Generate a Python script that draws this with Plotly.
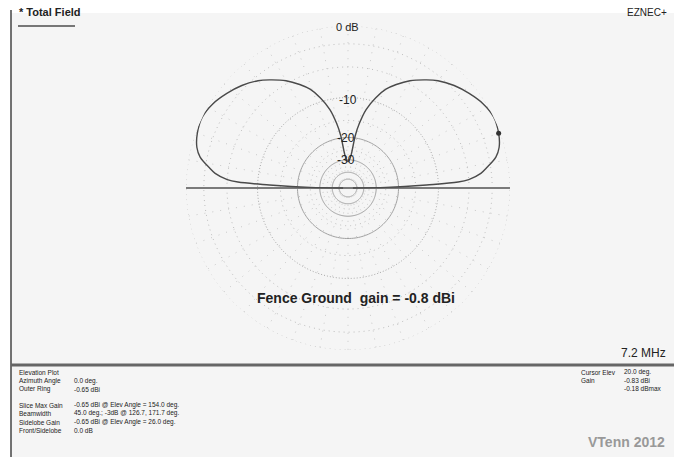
import plotly.graph_objects as go

# ---- data (elevation pattern, dB relative to outer ring = -0.65 dBi) ----
elev_half = [0, 1, 1.5, 2.2, 3.1, 4, 6.3, 8.3, 11.8, 15, 20, 26, 32, 38, 44, 50, 54, 60, 65, 69, 73, 77, 80, 82, 84.5, 87, 90]
gain_half = [-60, -25, -18, -12.4, -6.6, -5.0, -3.3, -2.5, -1.2, -0.6, -0.18, 0, -0.3, -0.9, -1.6, -2.5, -3.3, -4.6, -6.0, -7.3, -9.3, -12, -15.5, -19, -27, -30, -31]

ring_dotted = [0, -2, -5, -10, -15, -25, -35]
ring_solid = [-20, -30, -40, -50]
ring_labels = ["0 dB", "-10", "-20", "-30"]
cursor_elev = [20.0]
cursor_gain = [-0.18]

left_lines = ["Elevation Plot", "Azimuth Angle", "Outer Ring", "", "Slice Max Gain", "Beamwidth", "Sidelobe Gain", "Front/Sidelobe"]
left_vals = ["", "0.0 deg.", "-0.65 dBi", "", "-0.65 dBi @ Elev Angle = 154.0 deg.",
             "45.0 deg.; -3dB @ 126.7, 171.7 deg.", "-0.65 dBi @ Elev Angle = 26.0 deg.", "0.0 dB"]
right_lines = ["Cursor Elev", "Gain", ""]
right_vals = ["20.0 deg.", "-0.83 dBi", "-0.18 dBmax"]


def arrl(db):
    # ARRL log scale: 0.89 per 2 dB
    return 0.89 ** (-db / 2.0)


elev = elev_half + [180 - e for e in reversed(elev_half[:-1])]
gain = gain_half + list(reversed(gain_half[:-1]))

W, H = 674, 457
cx, cy, R = 348, 188, 162

fig = go.Figure()

full = list(range(0, 361, 2))
for d in ring_dotted:
    fig.add_trace(go.Scatterpolar(r=[arrl(d)] * len(full), theta=full, mode="lines",
                                  line=dict(color="#a8a8a8" if d == -10 else "#bdbdbd", width=1,
                                            dash="1px,2px" if d == -10 else "1px,4px"),
                                  hoverinfo="skip", showlegend=False))
for d in ring_solid:
    fig.add_trace(go.Scatterpolar(r=[arrl(d)] * len(full), theta=full, mode="lines",
                                  line=dict(color="#a0a0a0", width=1),
                                  hoverinfo="skip", showlegend=False))
for a in range(0, 360, 10):
    fig.add_trace(go.Scatterpolar(r=[arrl(-50), 1], theta=[a, a], mode="lines",
                                  line=dict(color="#c8c8c8", width=1, dash="1px,7px"),
                                  hoverinfo="skip", showlegend=False))

# ground line
fig.add_trace(go.Scatterpolar(r=[1, 0, 1], theta=[0, 0, 180], mode="lines",
                              line=dict(color="#7a7a7a", width=2),
                              hoverinfo="skip", showlegend=False))

# pattern
fig.add_trace(go.Scatterpolar(r=[arrl(g) for g in gain], theta=elev, mode="lines",
                              line=dict(color="#4a4a4a", width=1.4, shape="spline"),
                              showlegend=False))
fig.add_trace(go.Scatterpolar(r=[arrl(g) for g in cursor_gain], theta=cursor_elev, mode="markers",
                              marker=dict(color="#333333", size=5), showlegend=False))

fig.update_layout(
    width=W, height=H,
    margin=dict(l=0, r=0, t=0, b=0),
    paper_bgcolor="white",
    plot_bgcolor="white",
    font=dict(family="Arial, Liberation Sans, sans-serif", color="#222"),
    polar=dict(
        domain=dict(x=[(cx - R) / W, (cx + R) / W], y=[(H - cy - R) / H, (H - cy + R) / H]),
        bgcolor="rgba(0,0,0,0)",
        radialaxis=dict(visible=False, range=[0, 1]),
        angularaxis=dict(visible=False, rotation=0, direction="counterclockwise"),
    ),
)

shapes = [
    dict(type="rect", xref="paper", yref="paper", x0=11 / W, x1=1, y0=0, y1=(H - 13) / H,
         fillcolor="#f5f5f5", line=dict(width=0), layer="below"),
    dict(type="line", xref="paper", yref="paper", x0=11 / W, x1=11 / W, y0=0, y1=(H - 10) / H,
         line=dict(color="#444", width=1.5)),
    dict(type="line", xref="paper", yref="paper", x0=11 / W, x1=1, y0=(H - 365) / H, y1=(H - 365) / H,
         line=dict(color="#666", width=3)),
    dict(type="line", xref="paper", yref="paper", x0=18 / W, x1=75 / W, y0=(H - 26) / H, y1=(H - 26) / H,
         line=dict(color="#777", width=2)),
]
fig.update_layout(shapes=shapes)


def px(x, y):
    return x / W, (H - y) / H


anns = []


def add_text(text, x, y, size, xanchor="left", bold=False, color="#222"):
    xx, yy = px(x, y)
    anns.append(dict(text=("<b>%s</b>" % text) if bold else text, x=xx, y=yy, xref="paper", yref="paper",
                     showarrow=False, xanchor=xanchor, yanchor="middle",
                     font=dict(size=size, color=color)))


add_text("* Total Field", 17, 12, 11, bold=True)
add_text("EZNEC+", 669, 12, 10, xanchor="right")
label_pos = [(348, 27), (348, 100), (346, 138), (346, 160)]
for t, (x, y) in zip(ring_labels, label_pos):
    add_text(t, x, y, 11 if t == "0 dB" else 12, xanchor="center")
add_text("Fence Ground  gain = -0.8 dBi", 356, 298, 14, xanchor="center", bold=True)
add_text("7.2 MHz", 668, 353, 12, xanchor="right")
add_text("VTenn 2012", 667, 442, 14, xanchor="right", bold=True, color="#999")

ys = [372, 381, 389, 397, 405, 413, 422, 430]
for t, v, y in zip(left_lines, left_vals, ys):
    if t:
        add_text(t, 17, y, 6.5)
    if v:
        add_text(v, 72, y, 6.5)
ys2 = [372, 380, 388]
for t, v, y in zip(right_lines, right_vals, ys2):
    if t:
        add_text(t, 579, y, 6.5)
    add_text(v, 622, y, 6.5)

fig.update_layout(annotations=anns)
fig.write_html("out.html", config={"displayModeBar": False},
               post_script="document.body.style.margin='0';document.body.style.overflow='hidden';")
